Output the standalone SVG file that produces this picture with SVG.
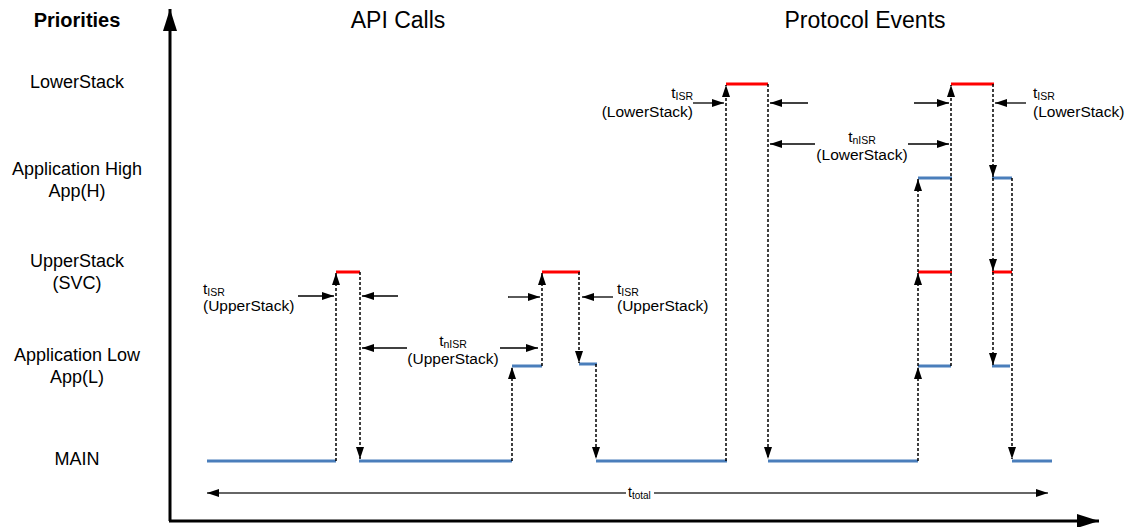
<svg xmlns="http://www.w3.org/2000/svg" width="1127" height="527" viewBox="0 0 1127 527">
<style>
text{font-family:"Liberation Sans",Arial,sans-serif;fill:#000}
.lbl{font-size:18px;text-anchor:middle}
.ttl{font-size:23px;text-anchor:middle}
.ann{font-size:15.5px}
.sub{font-size:10.5px}
.blue{stroke:#4a7ebb;stroke-width:3;fill:none}
.red{stroke:#ff0000;stroke-width:3;fill:none}
.dash{stroke:#000;stroke-width:1.5;stroke-dasharray:3 2;fill:none;marker-end:url(#ah)}
.ptr{stroke:#000;stroke-width:1.3;fill:none;marker-end:url(#ap)}
.axis{stroke:#000;stroke-width:3;fill:none}
</style>
<defs>
<marker id="ah" markerUnits="userSpaceOnUse" markerWidth="12" markerHeight="14" viewBox="0 0 12 14" refX="12" refY="7" orient="auto"><path d="M0,3 L12,7 L0,11 Z" fill="#000"/></marker>
<marker id="ap" markerUnits="userSpaceOnUse" markerWidth="12" markerHeight="12" viewBox="0 0 12 12" refX="12" refY="6" orient="auto"><path d="M0,2 L12,6 L0,10 Z" fill="#000"/></marker>
<marker id="ax" markerUnits="userSpaceOnUse" markerWidth="22" markerHeight="16" viewBox="0 0 22 16" refX="22" refY="8" orient="auto"><path d="M0,1 L22,8 L0,15 Z" fill="#000"/></marker>
<marker id="tt" markerUnits="userSpaceOnUse" markerWidth="12" markerHeight="10" viewBox="0 0 12 10" refX="12" refY="5" orient="auto-start-reverse"><path d="M0,1 L12,5 L0,9 Z" fill="#000"/></marker>
</defs>

<g id="axes">
<path class="axis" d="M170,521 L170,9" marker-end="url(#ax)"/>
<path class="axis" d="M169,521 L1099,521" marker-end="url(#ax)"/>
</g>

<g id="labels">
<text x="77" y="27" font-size="20" font-weight="bold" text-anchor="middle">Priorities</text>
<text class="lbl" x="77" y="88">LowerStack</text>
<text class="lbl" x="77" y="175">Application High</text>
<text class="lbl" x="77" y="197">App(H)</text>
<text class="lbl" x="77" y="267">UpperStack</text>
<text class="lbl" x="77" y="289">(SVC)</text>
<text class="lbl" x="77" y="361">Application Low</text>
<text class="lbl" x="77" y="383">App(L)</text>
<text class="lbl" x="77" y="465">MAIN</text>
<text class="ttl" x="398" y="28">API Calls</text>
<text class="ttl" x="865" y="28">Protocol Events</text>
</g>

<g id="levels">
<path class="blue" d="M207,461 H336 M359,461 H512 M596,461 H727 M768,461 H918 M1012,461 H1052"/>
<path class="blue" d="M512,366 H542 M579,364 H597 M918,366 H951 M992,366 H1010"/>
<path class="blue" d="M918,178 H952 M992,178 H1012"/>
<path class="red" d="M336,272 H360 M542,272 H580 M918,272 H952 M992,272 H1012"/>
<path class="red" d="M726,84 H768 M951,84 H994"/>
</g>

<g id="connectors">
<path class="dash" d="M336,461 V273"/>
<path class="dash" d="M360,272 V459"/>
<path class="dash" d="M512,461 V367"/>
<path class="dash" d="M542,366 V273"/>
<path class="dash" d="M579,272 V363"/>
<path class="dash" d="M596,364 V459"/>
<path class="dash" d="M726,461 V85"/>
<path class="dash" d="M768,84 V459"/>
<path class="dash" d="M918,461 V367"/>
<path class="dash" d="M918,366 V273"/>
<path class="dash" d="M918,272 V179"/>
<path class="dash" d="M951,366 V85"/>
<path class="dash" d="M993,84 V177"/>
<path class="dash" d="M993,178 V271"/>
<path class="dash" d="M993,272 V365"/>
<path class="dash" d="M1012,178 V459"/>

<path class="ptr" d="M298,296 H334"/>
<path class="ptr" d="M398,296 H362"/>
<path class="ptr" d="M407,348 H362"/>
<path class="ptr" d="M500,348 H538"/>
<path class="ptr" d="M508,297 H540"/>
<path class="ptr" d="M613,297 H582"/>
<path class="ptr" d="M693,103 H724"/>
<path class="ptr" d="M808,103 H770"/>
<path class="ptr" d="M914,103 H949"/>
<path class="ptr" d="M815,144 H770"/>
<path class="ptr" d="M908,144 H949"/>
<path class="ptr" d="M1026,103 H995"/>

<path d="M207,493 H1048" stroke="#333" stroke-width="1.3" fill="none" marker-start="url(#tt)" marker-end="url(#tt)"/>
</g>

<g id="annotations">
<text class="ann" x="203" y="294">t<tspan class="sub" dy="2">ISR</tspan></text>
<text class="ann" x="203" y="311">(UpperStack)</text>
<text class="ann" x="453" y="346" text-anchor="middle">t<tspan class="sub" dy="2">nISR</tspan></text>
<text class="ann" x="453" y="364" text-anchor="middle">(UpperStack)</text>
<text class="ann" x="617" y="294">t<tspan class="sub" dy="2">ISR</tspan></text>
<text class="ann" x="617" y="311">(UpperStack)</text>
<text class="ann" x="693" y="98" text-anchor="end">t<tspan class="sub" dy="2">ISR</tspan></text>
<text class="ann" x="693" y="117" text-anchor="end">(LowerStack)</text>
<text class="ann" x="862" y="142" text-anchor="middle">t<tspan class="sub" dy="2">nISR</tspan></text>
<text class="ann" x="862" y="160" text-anchor="middle">(LowerStack)</text>
<text class="ann" x="1033" y="98">t<tspan class="sub" dy="2">ISR</tspan></text>
<text class="ann" x="1033" y="117">(LowerStack)</text>
<rect x="626" y="485" width="28" height="15" fill="#fff"/>
<text x="628" y="497" font-size="14">t<tspan font-size="10" dy="2">total</tspan></text>
</g>
</svg>
